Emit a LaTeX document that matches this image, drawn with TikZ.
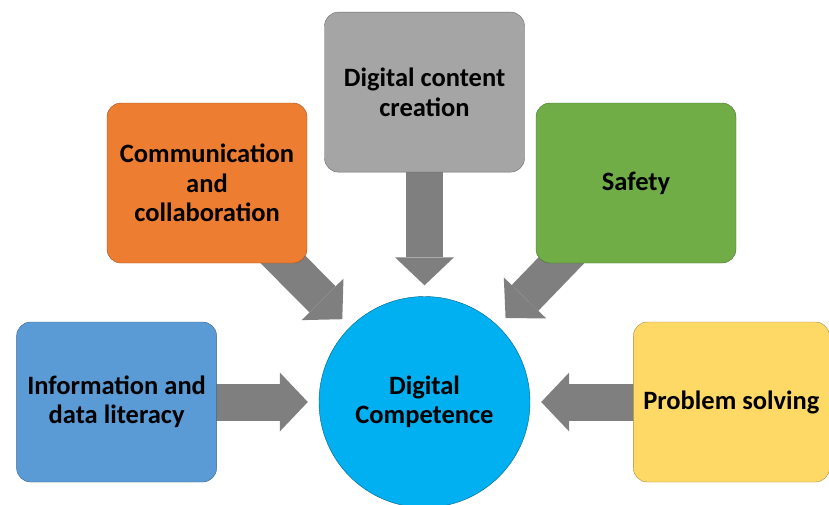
\documentclass[tikz,border=0pt]{standalone}
\usepackage{fontspec}
\setmainfont{Carlito}
\definecolor{cInfo}{HTML}{5B9BD5}
\definecolor{cComm}{HTML}{ED7D31}
\definecolor{cCont}{HTML}{A5A5A5}
\definecolor{cSafe}{HTML}{70AD47}
\definecolor{cProb}{HTML}{FFD966}
\definecolor{cCore}{HTML}{00B0F0}
\definecolor{cArrow}{HTML}{7F7F7F}
\usetikzlibrary{positioning,arrows.meta,backgrounds}
\tikzset{
  node-box/.style={draw=#1!65!black,fill=#1,thin,rounded corners=14pt,
    minimum width=200pt,minimum height=160pt,align=center,
    font=\bfseries\fontsize{26.5}{29.5}\selectfont},
  node-core/.style={circle,draw=cCore!55!black,fill=cCore,thin,
    minimum size=211pt,align=center,
    font=\bfseries\fontsize{26.5}{29.5}\selectfont},
  arrow-block/.style={-{Triangle[length=28pt,width=59pt,line width=0pt]},
    line width=37pt,draw=cArrow,shorten >=11pt},
}

\begin{document}
\begin{tikzpicture}[x=1pt,y=-1pt]
  \useasboundingbox (0,0) rectangle (829,504);
  \node[node-core] (core) at (424.5,402) {Digital\\Competence};
  \node[node-box=cInfo,left=102pt of core] (info) {Information and\\data literacy};
  \node[node-box=cComm] (comm) at (207,183) {Communication\\and\\collaboration};
  \node[node-box=cCont,above=124pt of core] (content) {Digital content\\creation};
  \node[node-box=cSafe] (safety) at (636,183) {Safety};
  \node[node-box=cProb,minimum width=196pt,right=103pt of core] (problem) {Problem solving};
  \begin{scope}[on background layer]
    \draw[arrow-block] (info.center) -- (core);
    \draw[arrow-block] (comm.center) -- (core);
    \draw[arrow-block] (content.center) -- (core);
    \draw[arrow-block] (safety.center) -- (core);
    \draw[arrow-block] (problem.center) -- (core);
  \end{scope}
\end{tikzpicture}
\end{document}
